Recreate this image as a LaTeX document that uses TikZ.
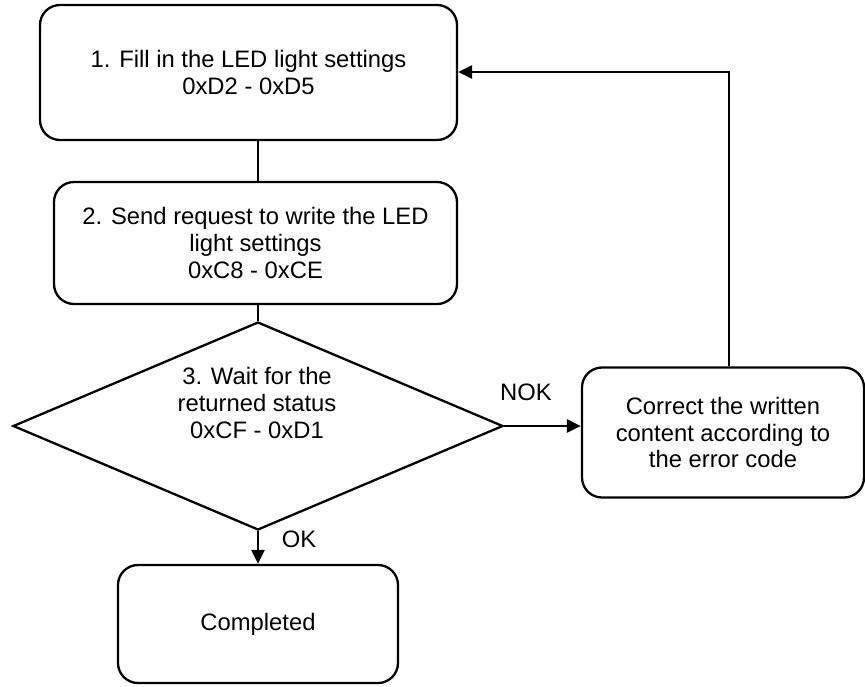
\documentclass[tikz,border=0pt]{standalone}
\usepackage{fontspec}
\setmainfont{Liberation Sans}
\usetikzlibrary{shapes.geometric,arrows.meta}
\begin{document}
\begin{tikzpicture}[x=1pt,y=-1pt,
  every node/.style={font=\fontsize{23.8}{26.8}\selectfont, inner sep=0pt},
  boxnode/.style={draw, line width=2.3pt, rounded corners=20pt, align=center},
  conn/.style={line width=2.3pt},
  arr/.style={conn, -{Triangle[length=14pt,width=13pt]}}]
\useasboundingbox (0,0) rectangle (865,686);
\node[boxnode, minimum width=417pt, minimum height=135pt] (b1) at (248.5,72.5)
  {1. Fill in the LED light settings\\0xD2 - 0xD5};
\node[boxnode, minimum width=403pt, minimum height=122pt] (b2) at (255.5,243)
  {2. Send request to write the LED\\light settings\\0xC8 - 0xCE};
\node[draw, diamond, line width=2.3pt, minimum width=490pt, minimum height=208pt] (d) at (258,426) {};
\node[align=center] (dt) at (257,403) {3. Wait for the\\returned status\\0xCF - 0xD1};
\node[boxnode, minimum width=282pt, minimum height=130pt] (b3) at (723,432.5)
  {Correct the written\\content according to\\the error code};
\node[boxnode, minimum width=280pt, minimum height=118pt] (b4) at (258,624) {Completed};
\coordinate (mx) at (258,0);
\coordinate (rx) at (729,72);
\draw[conn] (b1.south -| mx) -- (b2.north -| mx);
\draw[conn] (b2.south -| mx) -- (d.north);
\draw[arr] (d.east) -- (d.east -| b3.west);
\draw[arr] (b3.north -| rx) |- (b1.east |- rx);
\draw[arr] (d.south) -- (b4.north);
\node (nok) at (526,392) {NOK};
\node (ok) at (299,539) {OK};
\end{tikzpicture}
\end{document}
